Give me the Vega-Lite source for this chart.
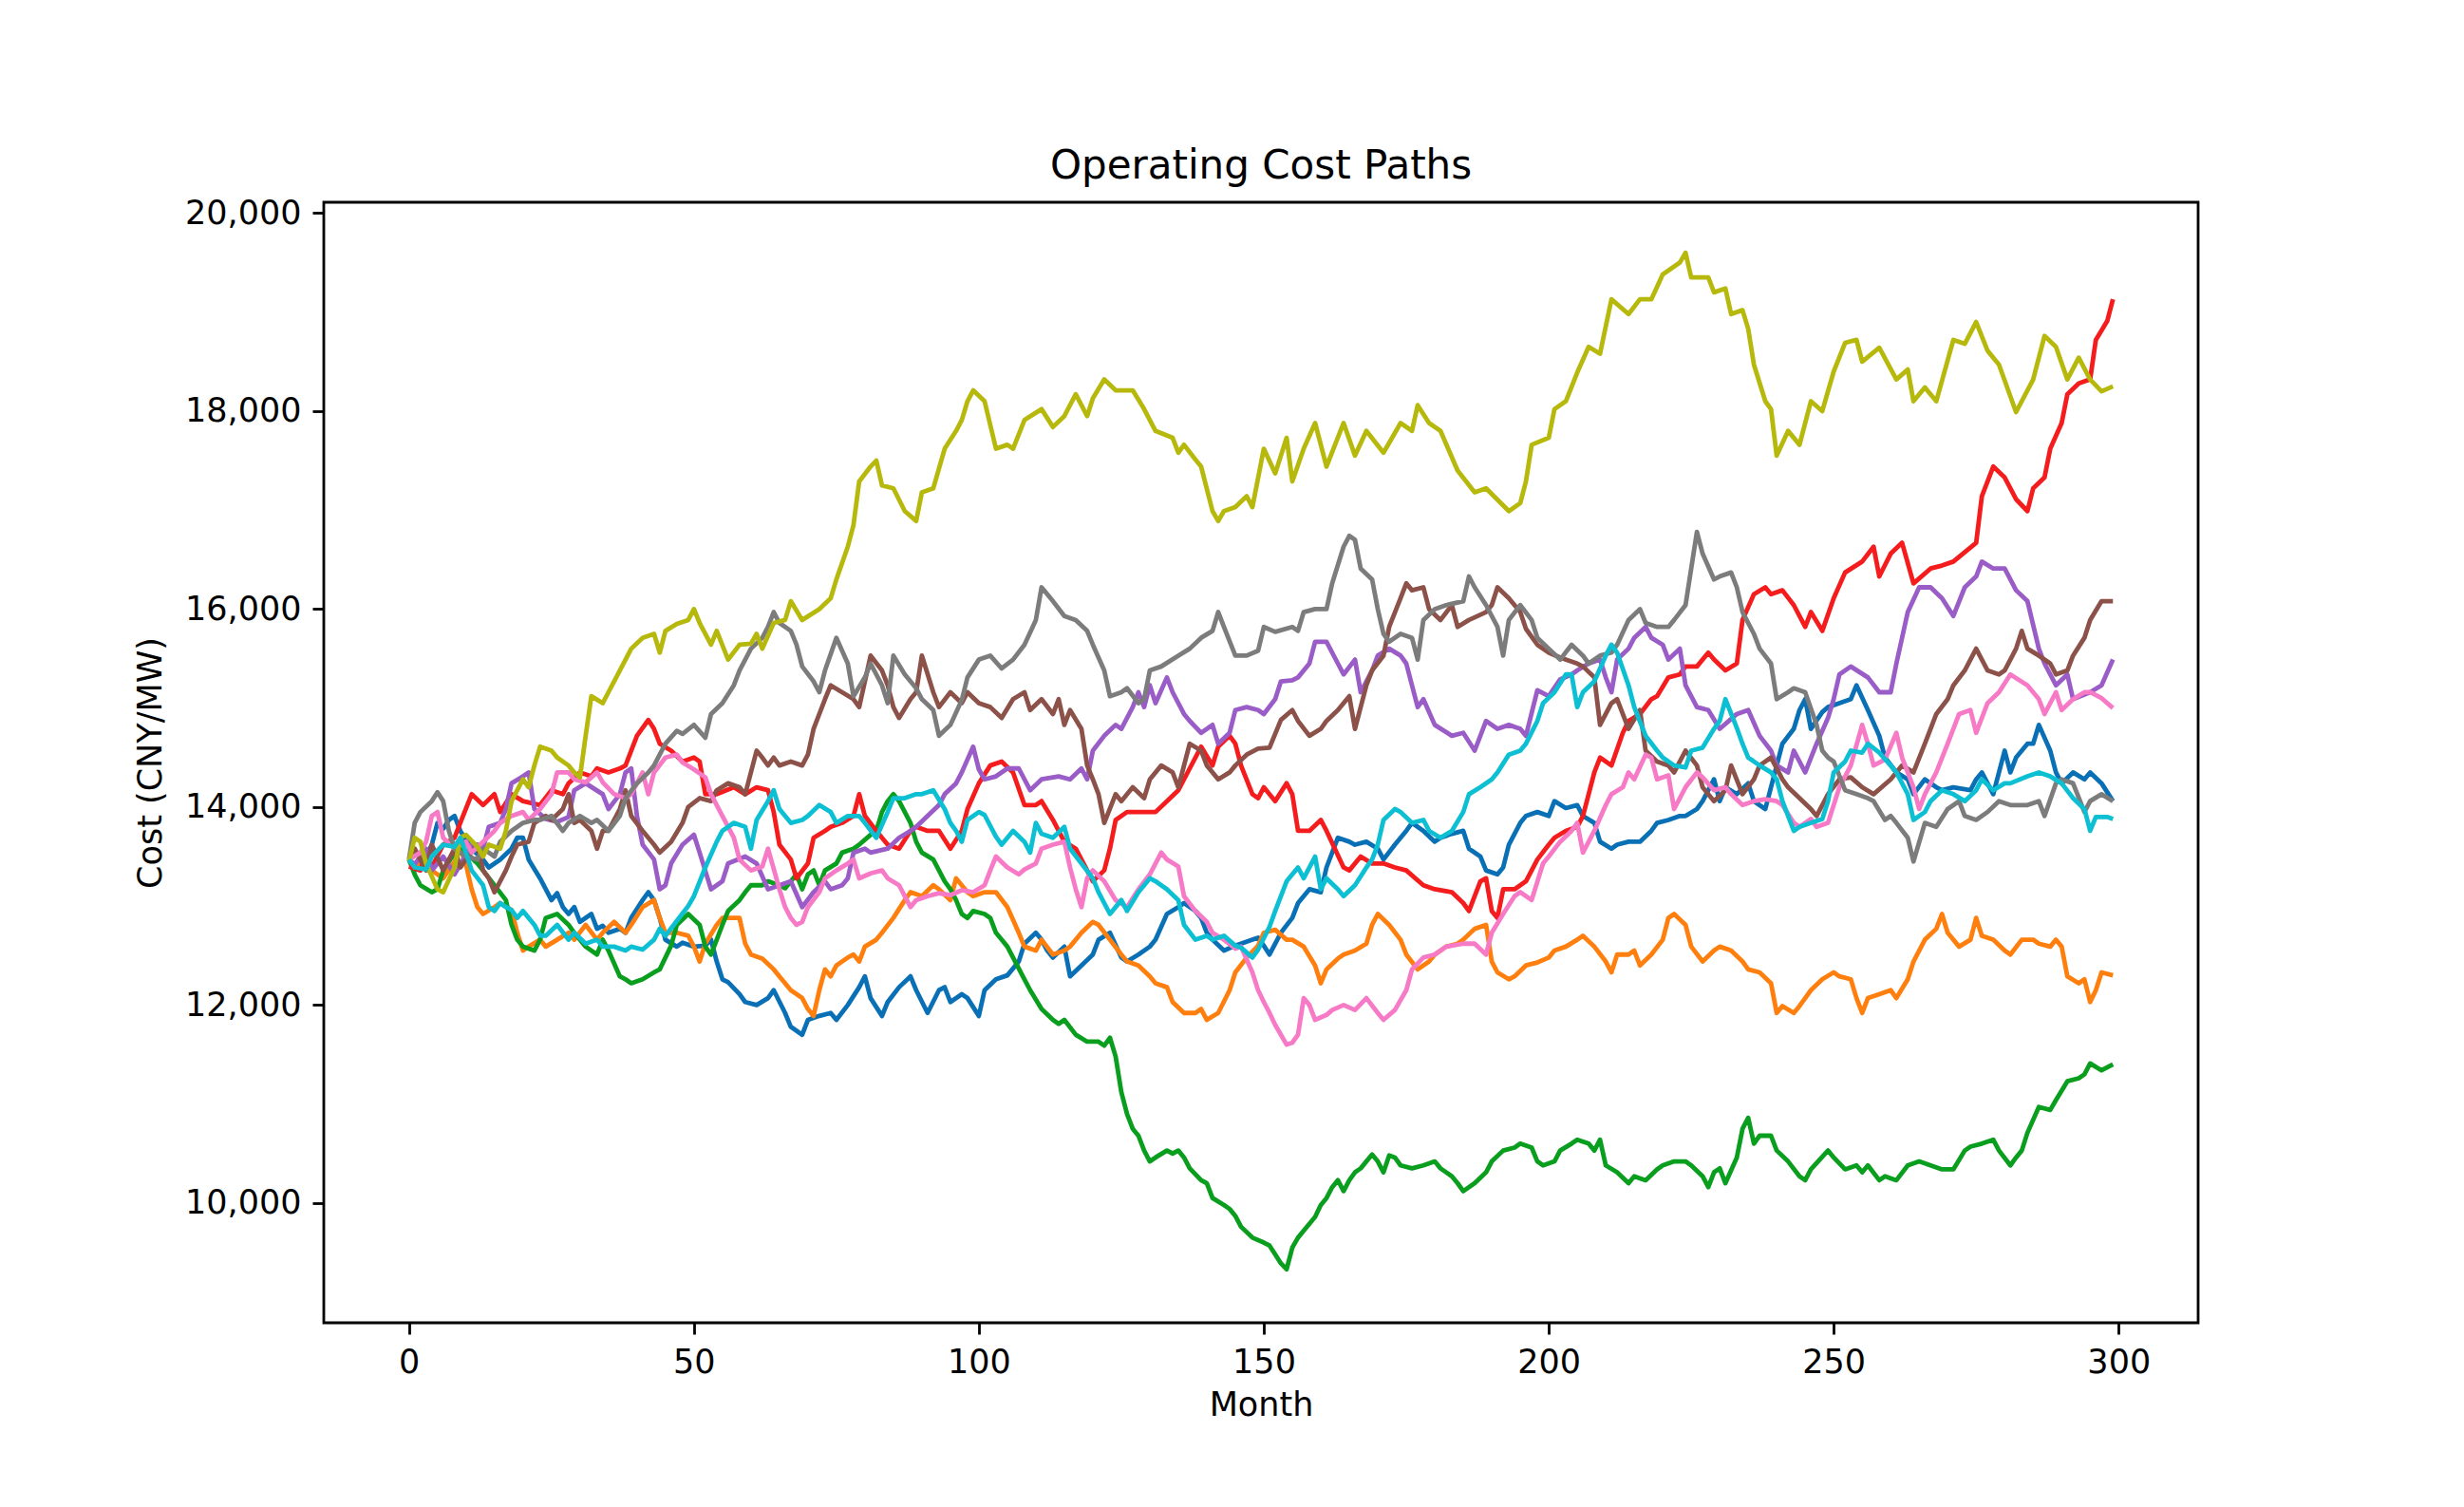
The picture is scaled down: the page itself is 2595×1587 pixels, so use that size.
{
"$schema": "https://vega.github.io/schema/vega-lite/v6.json",
"width": 1974,
"height": 1180,
"autosize": "none",
"padding": {"left": 341, "top": 213, "right": 280, "bottom": 194},
"background": "white",
"title": {"text": "Operating Cost Paths", "font": "DejaVu Sans", "fontSize": 42, "fontWeight": "normal", "color": "black", "anchor": "middle", "frame": "group", "offset": 10},
"data": {
"values": "s,m,v\np0,0,13470\np0,1,13360\np0,2,13390\np0,4,13620\np0,5,13840\np0,6,13780\np0,7,13870\np0,8,13910\np0,9,13760\np0,11,13580\np0,13,13470\np0,14,13390\np0,16,13470\np0,18,13580\np0,19,13690\np0,20,13690\np0,21,13470\np0,23,13280\np0,24,13170\np0,25,13060\np0,26,13130\np0,27,12990\np0,28,12920\np0,29,12990\np0,30,12840\np0,32,12920\np0,33,12770\np0,34,12800\np0,35,12730\np0,37,12770\np0,38,12730\np0,39,12880\np0,41,13060\np0,42,13140\np0,43,13060\np0,44,12880\np0,45,12660\np0,47,12590\np0,48,12630\np0,50,12590\np0,52,12600\np0,53,12660\np0,54,12440\np0,55,12260\np0,56,12230\np0,58,12110\np0,59,12030\np0,61,12000\np0,63,12070\np0,64,12150\np0,66,11920\np0,67,11780\np0,68,11740\np0,69,11700\np0,70,11850\np0,72,11890\np0,74,11920\np0,75,11850\np0,77,12000\np0,79,12180\np0,80,12290\np0,81,12070\np0,83,11890\np0,84,12030\np0,86,12180\np0,88,12290\np0,89,12150\np0,91,11920\np0,93,12150\np0,94,12180\np0,95,12030\np0,97,12110\np0,98,12070\np0,100,11890\np0,101,12150\np0,103,12260\np0,105,12300\np0,107,12440\np0,108,12620\np0,110,12730\np0,111,12660\np0,112,12550\np0,113,12480\np0,115,12590\np0,116,12290\np0,118,12400\np0,120,12510\np0,121,12660\np0,123,12730\np0,125,12480\np0,126,12440\np0,128,12510\np0,130,12590\np0,131,12660\np0,133,12920\np0,135,12990\np0,136,13030\np0,138,12950\np0,139,12880\np0,140,12730\np0,141,12660\np0,143,12550\np0,145,12600\np0,146,12620\np0,148,12660\np0,149,12680\np0,150,12600\np0,151,12510\np0,153,12730\np0,155,12880\np0,156,13030\np0,158,13170\np0,160,13140\np0,161,13390\np0,163,13690\np0,165,13650\np0,166,13620\np0,168,13650\np0,170,13580\np0,171,13470\np0,173,13620\np0,175,13760\np0,176,13840\np0,178,13760\np0,180,13650\np0,181,13690\np0,183,13730\np0,185,13760\np0,186,13580\np0,188,13500\np0,189,13360\np0,191,13320\np0,192,13390\np0,193,13620\np0,195,13840\np0,196,13910\np0,198,13950\np0,200,13910\np0,201,14060\np0,203,13990\np0,205,14020\np0,206,13910\np0,208,13840\np0,209,13650\np0,211,13580\np0,212,13620\np0,214,13650\np0,216,13650\np0,218,13760\np0,219,13840\np0,221,13870\np0,223,13910\np0,224,13910\np0,226,13980\np0,227,14060\np0,229,14280\np0,230,14060\np0,231,14200\np0,233,14130\np0,235,14240\np0,236,14060\np0,238,13980\np0,240,14420\np0,241,14640\np0,243,14790\np0,244,14980\np0,245,15090\np0,246,14790\np0,248,14960\np0,249,15010\np0,251,15050\np0,253,15090\np0,254,15230\np0,256,14980\np0,258,14720\np0,259,14500\np0,261,14350\np0,263,14280\np0,264,14130\np0,266,14280\np0,268,14200\np0,269,14170\np0,271,14200\np0,274,14170\np0,275,14280\np0,276,14350\np0,278,14130\np0,280,14570\np0,281,14350\np0,282,14500\np0,284,14640\np0,285,14640\np0,286,14830\np0,288,14570\np0,289,14350\np0,290,14240\np0,292,14350\np0,294,14280\np0,295,14350\np0,297,14240\np0,299,14060\np1,0,13470\np1,1,13390\np1,3,13500\np1,4,13360\np1,6,13280\np1,8,13450\np1,9,13580\np1,10,13420\np1,11,13170\np1,12,12990\np1,13,12920\np1,15,12990\np1,16,13030\np1,18,12960\np1,19,12730\np1,20,12550\np1,21,12590\np1,23,12660\np1,24,12590\np1,26,12660\np1,28,12730\np1,29,12660\np1,31,12810\np1,33,12660\np1,34,12730\np1,36,12840\np1,38,12730\np1,39,12810\np1,41,12990\np1,43,13060\np1,44,12880\np1,45,12730\np1,47,12730\np1,49,12700\np1,50,12590\np1,51,12440\np1,52,12620\np1,54,12810\np1,55,12880\np1,57,12880\np1,58,12880\np1,59,12620\np1,60,12510\np1,62,12470\np1,64,12360\np1,65,12290\np1,67,12150\np1,69,12070\np1,70,11960\np1,71,11890\np1,72,12150\np1,73,12360\np1,74,12290\np1,75,12400\np1,77,12480\np1,78,12510\np1,79,12440\np1,80,12590\np1,82,12660\np1,83,12730\np1,85,12880\np1,87,13060\np1,88,13140\np1,90,13100\np1,92,13210\np1,93,13170\np1,95,13060\np1,96,13280\np1,98,13140\np1,99,13100\np1,101,13140\np1,103,13140\np1,105,12990\np1,107,12730\np1,108,12590\np1,110,12550\np1,111,12660\np1,113,12510\np1,115,12550\np1,116,12590\np1,118,12730\np1,120,12840\np1,121,12810\np1,123,12660\np1,125,12510\np1,126,12440\np1,128,12400\np1,130,12290\np1,131,12220\np1,133,12180\np1,134,12030\np1,136,11920\np1,138,11920\np1,139,11960\np1,140,11850\np1,142,11920\np1,144,12150\np1,145,12330\np1,147,12480\np1,149,12600\np1,150,12730\np1,152,12760\np1,154,12660\np1,155,12660\np1,157,12590\np1,159,12400\np1,160,12220\np1,161,12360\np1,163,12470\np1,164,12510\np1,166,12550\np1,168,12620\np1,169,12810\np1,170,12920\np1,172,12810\np1,174,12660\np1,175,12510\np1,177,12360\np1,179,12440\np1,180,12510\np1,182,12590\np1,184,12620\np1,185,12660\np1,187,12770\np1,189,12810\np1,190,12440\np1,191,12330\np1,193,12260\np1,194,12290\np1,196,12400\np1,198,12430\np1,200,12480\np1,201,12550\np1,203,12590\np1,205,12660\np1,206,12700\np1,208,12590\np1,210,12440\np1,211,12330\np1,212,12510\np1,214,12510\np1,215,12550\np1,216,12400\np1,218,12510\np1,220,12660\np1,221,12880\np1,222,12920\np1,224,12810\np1,225,12590\np1,227,12440\np1,229,12550\np1,230,12590\np1,232,12550\np1,234,12440\np1,235,12360\np1,237,12330\np1,239,12220\np1,240,11920\np1,241,11990\np1,243,11920\np1,244,11990\np1,245,12070\np1,246,12150\np1,248,12260\np1,250,12330\np1,251,12290\np1,253,12260\np1,254,12070\np1,255,11920\np1,256,12070\np1,258,12110\np1,260,12150\np1,261,12070\np1,263,12260\np1,264,12440\np1,266,12660\np1,268,12770\np1,269,12920\np1,270,12730\np1,272,12590\np1,274,12660\np1,275,12880\np1,276,12700\np1,278,12660\np1,280,12550\np1,281,12510\np1,283,12660\np1,285,12660\np1,286,12620\np1,288,12590\np1,289,12660\np1,290,12590\np1,291,12290\np1,293,12220\np1,294,12260\np1,295,12030\np1,296,12150\np1,297,12330\np1,299,12300\np2,0,13470\np2,1,13320\np2,2,13210\np2,4,13140\np2,5,13170\np2,6,13360\np2,8,13540\np2,9,13620\np2,10,13540\np2,12,13430\np2,13,13360\np2,15,13210\np2,17,13060\np2,18,12810\np2,19,12660\np2,20,12590\np2,22,12550\np2,23,12660\np2,24,12880\np2,26,12920\np2,28,12810\np2,29,12730\np2,31,12590\np2,33,12510\np2,34,12660\np2,35,12550\np2,37,12290\np2,38,12260\np2,39,12220\np2,41,12260\np2,43,12330\np2,44,12360\np2,45,12480\np2,46,12600\np2,47,12810\np2,49,12920\np2,51,12810\np2,52,12590\np2,53,12510\np2,54,12660\np2,55,12810\np2,56,12950\np2,58,13060\np2,59,13140\np2,60,13210\np2,62,13210\np2,63,13250\np2,65,13210\np2,66,13180\np2,68,13320\np2,69,13170\np2,70,13320\np2,71,13360\np2,72,13210\np2,73,13360\np2,75,13430\np2,76,13540\np2,78,13580\np2,79,13620\np2,81,13720\np2,82,13760\np2,83,13950\np2,84,14060\np2,85,14130\np2,86,14060\np2,88,13840\np2,89,13650\np2,90,13540\np2,92,13470\np2,94,13250\np2,95,13170\np2,96,13060\np2,97,12920\np2,98,12880\np2,99,12950\np2,101,12920\np2,102,12880\np2,103,12730\np2,104,12660\np2,105,12590\np2,106,12480\np2,108,12260\np2,109,12150\np2,111,11960\np2,113,11850\np2,114,11810\np2,115,11850\np2,117,11700\np2,119,11630\np2,121,11630\np2,122,11590\np2,123,11670\np2,124,11480\np2,125,11120\np2,126,10900\np2,127,10750\np2,128,10680\np2,129,10530\np2,130,10420\np2,131,10460\np2,133,10530\np2,134,10500\np2,135,10530\np2,136,10460\np2,137,10350\np2,139,10230\np2,140,10200\np2,141,10050\np2,143,9980\np2,144,9940\np2,145,9870\np2,146,9760\np2,148,9650\np2,150,9600\np2,151,9570\np2,152,9480\np2,153,9390\np2,154,9330\np2,155,9550\np2,156,9650\np2,157,9720\np2,158,9790\np2,159,9860\np2,160,9980\np2,161,10050\np2,162,10160\np2,163,10230\np2,164,10120\np2,165,10230\np2,166,10310\np2,167,10350\np2,169,10490\np2,170,10420\np2,171,10310\np2,172,10480\np2,173,10460\np2,174,10380\np2,176,10350\np2,178,10380\np2,180,10420\np2,181,10350\np2,183,10270\np2,184,10200\np2,185,10120\np2,187,10200\np2,189,10310\np2,190,10420\np2,192,10530\np2,194,10560\np2,195,10600\np2,197,10560\np2,198,10420\np2,199,10380\np2,201,10420\np2,202,10530\np2,204,10600\np2,205,10640\np2,207,10600\np2,208,10530\np2,209,10640\np2,210,10380\np2,212,10310\np2,214,10200\np2,215,10270\np2,217,10230\np2,219,10340\np2,220,10380\np2,222,10420\np2,224,10420\np2,225,10380\np2,227,10270\np2,228,10160\np2,229,10310\np2,230,10350\np2,231,10200\np2,233,10460\np2,234,10750\np2,235,10860\np2,236,10600\np2,237,10680\np2,239,10680\np2,240,10530\np2,242,10420\np2,244,10270\np2,245,10230\np2,246,10340\np2,249,10530\np2,250,10460\np2,252,10340\np2,254,10380\np2,255,10310\np2,256,10380\np2,258,10230\np2,259,10270\np2,261,10230\np2,263,10380\np2,265,10420\np2,267,10380\np2,269,10340\np2,271,10340\np2,273,10530\np2,274,10570\np2,276,10600\np2,278,10640\np2,279,10530\np2,281,10380\np2,282,10460\np2,283,10530\np2,284,10710\np2,286,10970\np2,288,10940\np2,289,11040\np2,291,11230\np2,293,11260\np2,294,11300\np2,295,11410\np2,297,11340\np2,299,11400\np3,0,13400\np3,2,13360\np3,3,13540\np3,4,13390\np3,6,13620\np3,8,13690\np3,9,13840\np3,11,14130\np3,13,14020\np3,15,14130\np3,16,13950\np3,18,14130\np3,20,14060\np3,23,14020\np3,25,14170\np3,27,14130\np3,28,14240\np3,30,14350\np3,32,14310\np3,33,14390\np3,35,14350\np3,37,14390\np3,38,14420\np3,40,14720\np3,42,14880\np3,43,14790\np3,44,14640\np3,46,14570\np3,48,14460\np3,50,14500\np3,51,14460\np3,52,14130\np3,54,14130\np3,57,14200\np3,59,14130\np3,61,14200\np3,63,14170\np3,64,13950\np3,65,13620\np3,67,13470\np3,68,13280\np3,70,13430\np3,71,13690\np3,73,13760\np3,74,13800\np3,76,13840\np3,78,13910\np3,79,14130\np3,80,13910\np3,82,13760\np3,84,13620\np3,86,13580\np3,88,13760\np3,89,13800\np3,91,13760\np3,93,13760\np3,95,13580\np3,97,13760\np3,98,13980\np3,100,14240\np3,102,14420\np3,104,14460\np3,106,14350\np3,108,14020\np3,110,14020\np3,111,14060\np3,113,13870\np3,115,13650\np3,117,13580\np3,119,13360\np3,120,13250\np3,122,13360\np3,123,13580\np3,124,13870\np3,126,13950\np3,128,13950\np3,131,13950\np3,133,14060\np3,135,14170\np3,137,14390\np3,139,14610\np3,141,14420\np3,142,14610\np3,144,14720\np3,145,14640\np3,146,14420\np3,148,14130\np3,149,14090\np3,150,14200\np3,152,14060\np3,154,14240\np3,155,14130\np3,156,13760\np3,158,13760\np3,160,13870\np3,161,13760\np3,164,13390\np3,165,13360\np3,167,13500\np3,169,13430\np3,171,13430\np3,173,13390\np3,175,13360\np3,178,13210\np3,180,13170\np3,183,13140\np3,185,13030\np3,186,12950\np3,188,13250\np3,189,13280\np3,190,12950\np3,191,12880\np3,192,13170\np3,194,13170\np3,196,13250\np3,198,13470\np3,200,13620\np3,201,13690\np3,203,13760\np3,205,13800\np3,206,13910\np3,208,14350\np3,209,14500\np3,211,14420\np3,213,14750\np3,214,14870\np3,216,14940\np3,218,15090\np3,219,15120\np3,221,15310\np3,223,15340\np3,224,15420\np3,226,15420\np3,228,15560\np3,229,15490\np3,231,15380\np3,233,15450\np3,234,15890\np3,236,16150\np3,238,16220\np3,239,16150\np3,241,16190\np3,243,16040\np3,245,15820\np3,246,15970\np3,248,15780\np3,250,16110\np3,252,16370\np3,255,16480\np3,257,16630\np3,258,16330\np3,260,16560\np3,262,16670\np3,264,16260\np3,267,16410\np3,269,16440\np3,271,16480\np3,275,16670\np3,276,17140\np3,278,17440\np3,280,17330\np3,282,17110\np3,284,16990\np3,285,17220\np3,287,17330\np3,288,17620\np3,290,17880\np3,291,18170\np3,293,18280\np3,295,18320\np3,296,18720\np3,298,18910\np3,299,19130\np4,0,13470\np4,1,13420\np4,3,13580\np4,4,13360\np4,6,13500\np4,8,13320\np4,9,13420\np4,11,13620\np4,13,13580\np4,14,13800\np4,16,13840\np4,17,13980\np4,18,14240\np4,20,14310\np4,21,14350\np4,22,13980\np4,24,13880\np4,26,13850\np4,28,13900\np4,29,14170\np4,31,14240\np4,34,14130\np4,35,13980\np4,37,14130\np4,38,14350\np4,39,14390\np4,40,13910\np4,41,13620\np4,43,13470\np4,44,13170\np4,45,13210\np4,46,13430\np4,48,13620\np4,50,13720\np4,51,13540\np4,53,13170\np4,55,13250\np4,56,13430\np4,59,13500\np4,61,13430\np4,63,13170\np4,65,13210\np4,67,13250\np4,69,12990\np4,71,13140\np4,73,13250\np4,74,13170\np4,76,13210\np4,77,13280\np4,78,13540\np4,80,13580\np4,81,13540\np4,84,13580\np4,86,13690\np4,88,13760\np4,89,13800\np4,91,13910\np4,93,14020\np4,94,14130\np4,96,14240\np4,97,14350\np4,99,14610\np4,100,14380\np4,101,14280\np4,103,14310\np4,105,14390\np4,107,14390\np4,109,14170\np4,111,14280\np4,114,14310\np4,116,14280\np4,118,14390\np4,119,14280\np4,120,14570\np4,122,14720\np4,124,14830\np4,125,14790\np4,127,15010\np4,128,15160\np4,129,15010\np4,130,15230\np4,131,15050\np4,133,15310\np4,134,15160\np4,136,14940\np4,137,14870\np4,139,14750\np4,141,14830\np4,142,14640\np4,144,14750\np4,145,14980\np4,147,15010\np4,149,14980\np4,150,14940\np4,152,15090\np4,153,15270\np4,155,15280\np4,156,15310\np4,158,15450\np4,159,15670\np4,161,15670\np4,163,15450\np4,164,15340\np4,166,15490\np4,167,15160\np4,169,15380\np4,170,15530\np4,172,15600\np4,174,15530\np4,175,15450\np4,177,15010\np4,178,15090\np4,180,14830\np4,183,14720\np4,185,14750\np4,187,14570\np4,189,14870\np4,191,14790\np4,193,14830\np4,195,14790\np4,196,14720\np4,198,15180\np4,200,15120\np4,202,15290\np4,204,15340\np4,205,15380\np4,207,15450\np4,209,15490\np4,210,15310\np4,211,15160\np4,212,15490\np4,214,15600\np4,215,15710\np4,217,15820\np4,218,15710\np4,220,15640\np4,221,15490\np4,223,15600\np4,224,15230\np4,226,15010\np4,228,14980\np4,230,14790\np4,233,14940\np4,235,14980\np4,237,14720\np4,239,14570\np4,240,14420\np4,242,14350\np4,243,14570\np4,245,14350\np4,247,14640\np4,249,14900\np4,250,15090\np4,251,15340\np4,253,15420\np4,256,15310\np4,258,15160\np4,260,15160\np4,261,15450\np4,263,15970\np4,265,16220\np4,267,16220\np4,269,16110\np4,271,15930\np4,273,16220\np4,275,16330\np4,276,16480\np4,278,16410\np4,280,16410\np4,282,16190\np4,284,16080\np4,286,15600\np4,287,15450\np4,289,15230\np4,291,15340\np4,292,15090\np4,295,15160\np4,297,15230\np4,299,15490\np5,0,13470\np5,1,13580\np5,3,13360\np5,4,13620\np5,6,13360\np5,8,13580\np5,9,13390\np5,10,13470\np5,12,13620\np5,13,13360\np5,14,13280\np5,15,13140\np5,17,13360\np5,18,13500\np5,19,13620\np5,21,13650\np5,22,13840\np5,24,13910\np5,25,13870\np5,27,13980\np5,28,14130\np5,29,13840\np5,30,13870\np5,32,13760\np5,33,13580\np5,34,13760\np5,35,13760\np5,37,13980\np5,38,14170\np5,39,13910\np5,41,13760\np5,43,13620\np5,44,13540\np5,46,13650\np5,48,13840\np5,49,14000\np5,51,14090\np5,53,14060\np5,54,14170\np5,56,14240\np5,58,14200\np5,59,14130\np5,61,14570\np5,62,14500\np5,63,14420\np5,64,14500\np5,65,14420\np5,67,14460\np5,69,14420\np5,70,14530\np5,71,14790\np5,73,15090\np5,74,15230\np5,76,15160\np5,78,15090\np5,79,15010\np5,81,15530\np5,83,15380\np5,84,15230\np5,85,15010\np5,86,14900\np5,88,15090\np5,89,15160\np5,90,15530\np5,92,15160\np5,93,15010\np5,95,15160\np5,97,15050\np5,98,15160\np5,100,15050\np5,102,15010\np5,104,14900\np5,106,15090\np5,108,15160\np5,109,14980\np5,111,15090\np5,113,14940\np5,114,15090\np5,115,14830\np5,116,14980\np5,118,14790\np5,119,14420\np5,120,14280\np5,121,14130\np5,122,13840\np5,124,14130\np5,125,14060\np5,127,14200\np5,129,14090\np5,130,14280\np5,132,14420\np5,134,14350\np5,135,14200\np5,137,14640\np5,139,14570\np5,140,14420\np5,142,14280\np5,144,14350\np5,145,14420\np5,147,14530\np5,149,14590\np5,151,14600\np5,153,14880\np5,155,14980\np5,156,14870\np5,158,14720\np5,160,14790\np5,161,14870\np5,163,14980\np5,165,15120\np5,166,14790\np5,168,15230\np5,169,15380\np5,171,15530\np5,172,15820\np5,174,16110\np5,175,16260\np5,176,16190\np5,178,16220\np5,179,16000\np5,181,15890\np5,183,16040\np5,184,15820\np5,186,15890\np5,189,15970\np5,190,16040\np5,191,16220\np5,193,16110\np5,195,15970\np5,196,15800\np5,198,15640\np5,200,15560\np5,202,15510\np5,205,15450\np5,206,15420\np5,208,15310\np5,209,14830\np5,211,15050\np5,212,15090\np5,214,14790\np5,216,14980\np5,217,14570\np5,219,14460\np5,221,14420\np5,222,14350\np5,224,14570\np5,226,14420\np5,227,14200\np5,229,14060\np5,231,14170\np5,232,14420\np5,234,14130\np5,236,14280\np5,237,14420\np5,239,14500\np5,241,14280\np5,242,14200\np5,244,14090\np5,246,13980\np5,247,13910\np5,249,14130\np5,251,14280\np5,253,14300\np5,255,14200\np5,257,14130\np5,260,14280\np5,262,14420\np5,264,14350\np5,266,14640\np5,268,14940\np5,270,15090\np5,271,15230\np5,273,15380\np5,275,15600\np5,277,15380\np5,279,15340\np5,280,15380\np5,282,15600\np5,283,15780\np5,284,15600\np5,286,15530\np5,288,15450\np5,289,15340\np5,291,15380\np5,292,15530\np5,294,15710\np5,295,15890\np5,297,16080\np5,299,16080\np6,0,13470\np6,2,13540\np6,3,13650\np6,4,13910\np6,5,13950\np6,6,13690\np6,8,13580\np6,10,13650\np6,11,13540\np6,13,13650\np6,15,13760\np6,16,13840\np6,18,13910\np6,20,13950\np6,21,13870\np6,23,13980\np6,25,14130\np6,26,14350\np6,28,14350\np6,29,14280\np6,31,14250\np6,33,14350\np6,34,14250\np6,36,14130\np6,38,14090\np6,39,14130\np6,41,14350\np6,42,14130\np6,43,14350\np6,45,14500\np6,47,14530\np6,48,14450\np6,50,14380\np6,52,14300\np6,53,14130\np6,55,13910\np6,57,13690\np6,58,13470\np6,60,13360\np6,62,13400\np6,63,13580\np6,65,13170\np6,66,12990\np6,67,12880\np6,68,12810\np6,69,12840\np6,70,12990\np6,72,13140\np6,73,13280\np6,75,13360\np6,77,13430\np6,78,13470\np6,79,13280\np6,81,13330\np6,83,13360\np6,84,13280\np6,86,13210\np6,88,12990\np6,89,13060\np6,91,13100\np6,93,13130\np6,95,13110\np6,97,13160\np6,99,13140\np6,101,13210\np6,102,13360\np6,103,13500\np6,105,13390\np6,107,13320\np6,108,13370\np6,110,13430\np6,111,13580\np6,113,13620\np6,115,13650\np6,116,13390\np6,117,13170\np6,118,12990\np6,119,13280\np6,120,13360\np6,122,13250\np6,124,13060\np6,126,12990\np6,128,13170\np6,130,13320\np6,132,13540\np6,133,13470\np6,135,13400\np6,136,13100\np6,138,12950\np6,140,12840\np6,141,12730\np6,143,12660\np6,145,12570\np6,146,12590\np6,148,12330\np6,149,12150\np6,150,12030\np6,151,11920\np6,152,11800\np6,154,11600\np6,155,11620\np6,156,11700\np6,157,12070\np6,158,12000\np6,159,11850\np6,161,11900\np6,162,11950\np6,164,12000\np6,166,11950\np6,168,12070\np6,170,11920\np6,171,11850\np6,173,11950\np6,175,12150\np6,176,12360\np6,178,12480\np6,180,12510\np6,182,12590\np6,185,12620\np6,187,12620\np6,189,12510\np6,190,12730\np6,192,12920\np6,194,13100\np6,195,13140\np6,197,13060\np6,199,13430\np6,200,13500\np6,202,13650\np6,204,13760\np6,205,13840\np6,206,13540\np6,208,13760\np6,210,14020\np6,211,14130\np6,213,14200\np6,214,14350\np6,215,14280\np6,217,14530\np6,218,14500\np6,219,14280\np6,221,14320\np6,222,13980\np6,224,14200\np6,226,14350\np6,227,14300\np6,229,14170\np6,231,14200\np6,232,14130\np6,234,14020\np6,236,14060\np6,238,14080\np6,240,14060\np6,241,14020\np6,243,13840\np6,244,13800\np6,246,13880\np6,247,13800\np6,249,13840\np6,251,14200\np6,253,14420\np6,255,14830\np6,256,14640\np6,257,14420\np6,259,14480\np6,261,14750\np6,262,14500\np6,264,14200\np6,265,13980\np6,266,14130\np6,268,14350\np6,270,14640\np6,272,14940\np6,274,14980\np6,275,14750\np6,277,15050\np6,279,15160\np6,281,15340\np6,284,15230\np6,286,15090\np6,287,14940\np6,289,15160\np6,290,14980\np6,292,15090\np6,294,15160\np6,295,15160\np6,297,15100\np6,299,15000\np7,0,13470\np7,1,13840\np7,2,13950\np7,4,14060\np7,5,14150\np7,6,14060\np7,7,13760\np7,8,13580\np7,10,13500\np7,12,13470\np7,13,13580\np7,15,13500\np7,16,13650\np7,18,13760\np7,20,13840\np7,22,13870\np7,23,13870\np7,25,13910\np7,27,13760\np7,28,13840\np7,30,13910\np7,32,13840\np7,33,13870\np7,35,13760\np7,37,13910\np7,38,14090\np7,40,14240\np7,42,14350\np7,43,14420\np7,45,14640\np7,47,14770\np7,48,14740\np7,50,14830\np7,52,14700\np7,53,14940\np7,55,15050\np7,57,15230\np7,58,15380\np7,60,15600\np7,62,15710\np7,63,15820\np7,64,15970\np7,65,15860\np7,67,15780\np7,68,15640\np7,69,15420\np7,71,15270\np7,72,15160\np7,73,15380\np7,75,15710\np7,77,15450\np7,78,15120\np7,80,15310\np7,81,15450\np7,83,15230\np7,84,15050\np7,85,15530\np7,87,15340\np7,89,15200\np7,90,15090\np7,92,14980\np7,93,14720\np7,95,14830\np7,97,15080\np7,98,15310\np7,100,15490\np7,102,15530\np7,104,15400\np7,106,15490\np7,108,15640\np7,110,15890\np7,111,16220\np7,113,16080\np7,115,15930\np7,117,15890\np7,119,15780\np7,120,15640\np7,122,15380\np7,123,15120\np7,125,15160\np7,126,15200\np7,128,15050\np7,129,15090\np7,130,15380\np7,132,15420\np7,135,15530\np7,137,15600\np7,139,15710\np7,141,15780\np7,142,15970\np7,143,15820\np7,145,15530\np7,147,15530\np7,149,15580\np7,150,15820\np7,152,15770\np7,155,15820\np7,156,15780\np7,157,15970\np7,159,16000\np7,161,16000\np7,162,16260\np7,164,16630\np7,165,16740\np7,166,16700\np7,167,16410\np7,169,16300\np7,170,16000\np7,171,15750\np7,172,15670\np7,174,15750\np7,176,15710\np7,177,15490\np7,178,15890\np7,180,16000\np7,182,16040\np7,185,16080\np7,186,16330\np7,187,16220\np7,189,16040\np7,191,15820\np7,192,15530\np7,193,15890\np7,195,16040\np7,197,15890\np7,198,15710\np7,200,15600\np7,202,15490\np7,204,15640\np7,206,15530\np7,207,15450\np7,209,15530\np7,211,15560\np7,212,15640\np7,214,15890\np7,216,16000\np7,217,15860\np7,219,15820\np7,221,15820\np7,222,15890\np7,224,16040\np7,225,16410\np7,226,16780\np7,227,16560\np7,229,16300\np7,230,16330\np7,232,16370\np7,233,16220\np7,234,15970\np7,236,15750\np7,237,15600\np7,239,15450\np7,240,15090\np7,242,15160\np7,243,15200\np7,245,15160\np7,247,14830\np7,248,14570\np7,249,14500\np7,250,14460\np7,252,14170\np7,254,14130\np7,256,14090\np7,257,14060\np7,259,13870\np7,260,13910\np7,261,13840\np7,263,13690\np7,264,13450\np7,266,13840\np7,268,13800\np7,270,13980\np7,272,14060\np7,273,13910\np7,275,13870\np7,277,13950\np7,279,14060\np7,281,14020\np7,284,14020\np7,286,14060\np7,287,13910\np7,289,14240\np7,290,14280\np7,292,14240\np7,294,13950\np7,295,14060\np7,297,14130\np7,299,14060\np8,0,13450\np8,1,13690\np8,2,13650\np8,3,13430\np8,5,13170\np8,6,13140\np8,8,13390\np8,9,13690\np8,10,13720\np8,12,13600\np8,13,13500\np8,14,13620\np8,16,13580\np8,17,13760\np8,18,14060\np8,20,14280\np8,21,14200\np8,22,14420\np8,23,14610\np8,25,14570\np8,26,14500\np8,28,14420\np8,29,14350\np8,30,14300\np8,31,14720\np8,32,15120\np8,34,15050\np8,35,15160\np8,37,15380\np8,39,15600\np8,41,15710\np8,43,15750\np8,44,15560\np8,45,15780\np8,47,15850\np8,49,15890\np8,50,16000\np8,51,15860\np8,53,15640\np8,54,15780\np8,56,15490\np8,58,15640\np8,60,15650\np8,61,15750\np8,62,15600\np8,64,15860\np8,66,15890\np8,67,16080\np8,69,15890\np8,72,16000\np8,74,16110\np8,75,16300\np8,77,16630\np8,78,16850\np8,79,17290\np8,81,17440\np8,82,17500\np8,83,17250\np8,85,17220\np8,87,16990\np8,89,16890\np8,90,17180\np8,92,17220\np8,94,17620\np8,96,17800\np8,97,17910\np8,98,18100\np8,99,18210\np8,101,18100\np8,103,17620\np8,105,17660\np8,106,17620\np8,108,17910\np8,111,18020\np8,113,17840\np8,115,17950\np8,117,18170\np8,119,17950\np8,120,18130\np8,122,18320\np8,124,18210\np8,127,18210\np8,129,18020\np8,131,17800\np8,134,17730\np8,135,17580\np8,136,17660\np8,138,17510\np8,139,17440\np8,141,16990\np8,142,16890\np8,143,16990\np8,145,17030\np8,147,17140\np8,148,17030\np8,150,17620\np8,152,17370\np8,154,17730\np8,155,17290\np8,157,17620\np8,159,17880\np8,161,17440\np8,164,17880\np8,166,17550\np8,168,17800\np8,171,17580\np8,174,17880\np8,176,17800\np8,177,18060\np8,179,17880\np8,181,17800\np8,184,17400\np8,187,17180\np8,189,17220\np8,193,16990\np8,195,17070\np8,196,17290\np8,197,17660\np8,200,17730\np8,201,18020\np8,203,18100\np8,205,18390\np8,207,18650\np8,209,18580\np8,211,19130\np8,214,18980\np8,216,19130\np8,218,19130\np8,220,19380\np8,223,19500\np8,224,19600\np8,225,19350\np8,226,19350\np8,228,19350\np8,229,19200\np8,231,19240\np8,232,18980\np8,234,19020\np8,235,18830\np8,236,18470\np8,238,18100\np8,239,18020\np8,240,17550\np8,242,17800\np8,244,17660\np8,246,18100\np8,248,18000\np8,250,18400\np8,252,18690\np8,254,18720\np8,255,18500\np8,258,18640\np8,261,18320\np8,263,18420\np8,264,18100\np8,266,18240\np8,268,18100\np8,271,18720\np8,273,18680\np8,275,18900\np8,277,18610\np8,279,18470\np8,282,17990\np8,285,18320\np8,287,18760\np8,289,18650\np8,291,18320\np8,293,18540\np8,295,18320\np8,297,18200\np8,299,18250\np9,0,13470\np9,1,13390\np9,3,13370\np9,4,13500\np9,6,13620\np9,8,13600\np9,9,13690\np9,10,13540\np9,11,13360\np9,13,13210\np9,14,12990\np9,15,12950\np9,16,13030\np9,17,12990\np9,18,12960\np9,19,12880\np9,20,12950\np9,22,12810\np9,23,12700\np9,24,12700\np9,26,12810\np9,28,12660\np9,29,12730\np9,31,12620\np9,33,12660\np9,34,12590\np9,36,12590\np9,38,12550\np9,39,12590\np9,41,12560\np9,43,12660\np9,44,12770\np9,45,12700\np9,47,12850\np9,49,13000\np9,50,13100\np9,52,13390\np9,54,13650\np9,55,13760\np9,57,13840\np9,59,13800\np9,60,13580\np9,61,13870\np9,63,14060\np9,64,14170\np9,65,13980\np9,67,13840\np9,69,13870\np9,70,13910\np9,72,14020\np9,74,13950\np9,75,13840\np9,77,13910\np9,79,13910\np9,80,13840\np9,82,13690\np9,84,13950\np9,85,14090\np9,87,14090\np9,89,14130\np9,90,14130\np9,92,14170\np9,94,13980\np9,95,13840\np9,96,13760\np9,97,13650\np9,98,13870\np9,100,13950\np9,101,13920\np9,103,13700\np9,104,13620\np9,106,13760\np9,108,13650\np9,109,13540\np9,110,13840\np9,111,13730\np9,113,13690\np9,115,13800\np9,116,13580\np9,118,13430\np9,120,13280\np9,121,13140\np9,123,12920\np9,125,13060\np9,126,12950\np9,128,13140\np9,130,13280\np9,131,13250\np9,133,13170\np9,135,13060\np9,136,12810\np9,138,12660\np9,140,12700\np9,141,12660\np9,143,12700\np9,145,12600\np9,146,12580\np9,148,12480\np9,149,12560\np9,151,12790\np9,152,12950\np9,154,13250\np9,156,13390\np9,157,13280\np9,159,13500\np9,160,13170\np9,161,13280\np9,163,13170\np9,164,13100\np9,166,13210\np9,168,13390\np9,169,13470\np9,170,13620\np9,171,13870\np9,173,13980\np9,174,13950\np9,176,13840\np9,178,13870\np9,179,13760\np9,181,13690\np9,183,13760\np9,185,13950\np9,186,14130\np9,188,14200\np9,190,14280\np9,191,14350\np9,193,14530\np9,195,14570\np9,196,14640\np9,198,14870\np9,199,15050\np9,201,15160\np9,203,15340\np9,204,15340\np9,205,15010\np9,206,15160\np9,208,15270\np9,210,15530\np9,211,15640\np9,212,15560\np9,214,15230\np9,215,15010\np9,217,14720\np9,219,14570\np9,220,14500\np9,222,14420\np9,224,14400\np9,225,14570\np9,227,14600\np9,229,14790\np9,230,14870\np9,231,15090\np9,233,14800\np9,234,14640\np9,235,14500\np9,237,14420\np9,239,14350\np9,240,14280\np9,241,14060\np9,243,13760\np9,244,13800\np9,246,13840\np9,248,13880\np9,249,14060\np9,250,14350\np9,252,14460\np9,253,14570\np9,255,14550\np9,256,14640\np9,258,14550\np9,260,14420\np9,261,14350\np9,263,14130\np9,264,13870\np9,266,13950\np9,267,14060\np9,269,14170\np9,271,14130\np9,273,14060\np9,275,14170\np9,276,14280\np9,278,14170\np9,280,14240\np9,281,14240\np9,284,14310\np9,286,14350\np9,288,14310\np9,290,14240\np9,292,14090\np9,294,13980\np9,295,13760\np9,296,13900\np9,298,13900\np9,299,13880",
"format": {"type": "csv", "parse": {"m": "number", "v": "number"}}
},
"mark": {"type": "line", "strokeWidth": 4.8, "strokeJoin": "round", "clip": true},
"encoding": {
"x": {"field": "m", "type": "quantitative", "scale": {"domain": [-14.95, 313.95], "nice": false, "zero": false},
"axis": {"values": [0, 50, 100, 150, 200, 250, 300], "title": "Month", "titlePadding": 10}},
"y": {"field": "v", "type": "quantitative", "scale": {"domain": [8790, 20110], "nice": false, "zero": false},
"axis": {"values": [10000, 12000, 14000, 16000, 18000, 20000], "format": ",d", "title": "Cost (CNY/MW)", "titlePadding": 18}},
"color": {"field": "s", "type": "nominal", "legend": null,
"scale": {"domain": ["p0", "p1", "p2", "p3", "p4", "p5", "p6", "p7", "p8", "p9"],
"range": ["#0a70b6", "#ff7f0e", "#0a9e1e", "#f41c1c", "#9a5cc6", "#8c5148", "#f77ac6", "#7c7c7c", "#b6b80c", "#0cbfd2"]}}
},
"config": {
"view": {"stroke": "black", "strokeWidth": 2.8},
"axis": {"domain": false, "grid": false, "labelFont": "DejaVu Sans", "labelFontSize": 35, "labelColor": "black",
"titleFont": "DejaVu Sans", "titleFontSize": 35, "titleFontWeight": "normal", "titleColor": "black",
"tickColor": "black", "tickWidth": 2.8, "tickSize": 12, "labelPadding": 12, "labelOverlap": false, "labelFlush": false}
}
}
